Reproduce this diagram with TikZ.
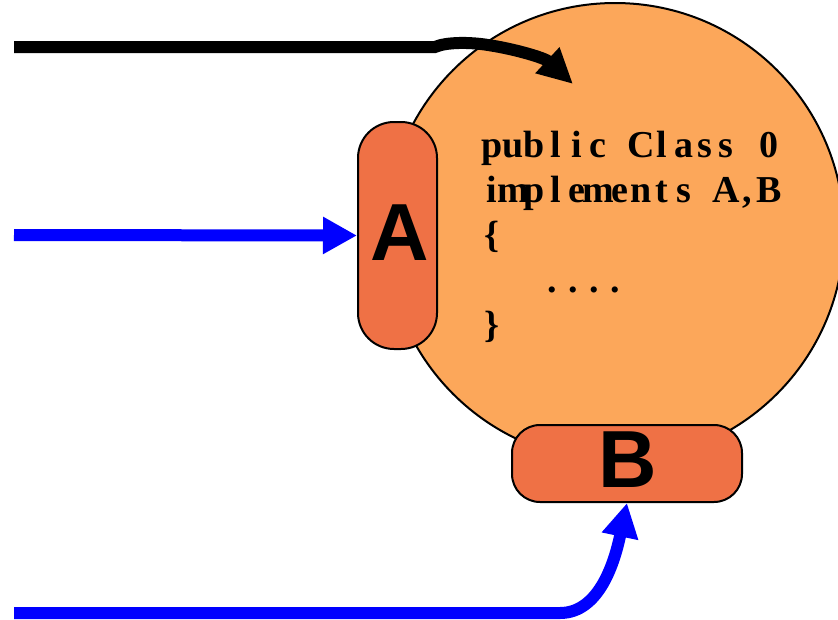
\documentclass[tikz,border=0pt]{standalone}
\usepackage{fontspec}
\setmainfont{Liberation Sans}
\newfontfamily\codefont{Liberation Serif}
\usetikzlibrary{arrows.meta}
\definecolor{bodyfill}{RGB}{252,167,90}
\definecolor{portfill}{RGB}{239,113,69}
\definecolor{wireblue}{RGB}{0,0,255}

% set a line of source text on a fixed character grid
\ExplSyntaxOn
\dim_new:N \l_code_cell_dim
\dim_set:Nn \l_code_cell_dim {21.3pt}
\NewDocumentCommand \celltext { m }
  { \str_map_inline:nn {#1} { \makebox[\l_code_cell_dim][c]{##1} } }
\NewDocumentCommand \cellchar { m }
  { \makebox[\l_code_cell_dim][c]{#1} }
\ExplSyntaxOff

\begin{document}
\begin{tikzpicture}[x=1pt,y=-1pt,
  body/.style={circle, fill=bodyfill, draw=black, line width=2pt, inner sep=0pt},
  port/.style={fill=portfill, draw=black, line width=2pt, inner sep=0pt},
  portlabel/.style={font=\fontsize{81}{81}\selectfont\bfseries, anchor=base, inner sep=0pt},
  codeline/.style={font=\codefont\bfseries\fontsize{38}{45}\selectfont, anchor=base west, inner sep=0pt},
  wire/.style={line width=12pt, -{Triangle[length=34pt,width=35pt]}},
]
\useasboundingbox (0,0) rectangle (838,619);

% the implementing object
\node[body, minimum size=458pt] (obj) at (615,232) {};

% interface ports
\node[port, rounded corners=36pt, minimum width=79pt, minimum height=227pt] (A) at (397.5,235.5) {};
\node[port, rounded corners=28pt, minimum width=230pt, minimum height=77pt] (B) at (627,463.5) {};
\node[portlabel] (Alabel) at (400,260) {A};
\node[portlabel] (Blabel) at (628,487) {B};

% class source
\node[codeline] (c1) at (481,157) {\celltext{public Class 0}};
\node[codeline] (c2) at (481,202) {\celltext{implements A,B}};
\node[codeline] (c3) at (481,247) {\cellchar{\{}};
\node[codeline] (c4) at (541,292) {\celltext{....}};
\node[codeline] (c5) at (481,337) {\cellchar{\}}};

% callers
\coordinate (s1) at (14,47);
\coordinate (s2) at (14,235);
\coordinate (s3) at (14,613);
\coordinate (entry) at (573,84);

\draw[wire, black, -{Triangle[length=35pt,width=33pt]}]
  (s1) -- (435,47) .. controls (446,42) and (470,42) .. (488,45)
  .. controls (515,49) and (545,58) .. (entry);
\draw[wire, wireblue] (s2) -- (A.west);
\draw[wire, wireblue] (s3) -- (560,613) .. controls (600,613) and (615,560) .. (B.south);
\end{tikzpicture}
\end{document}
